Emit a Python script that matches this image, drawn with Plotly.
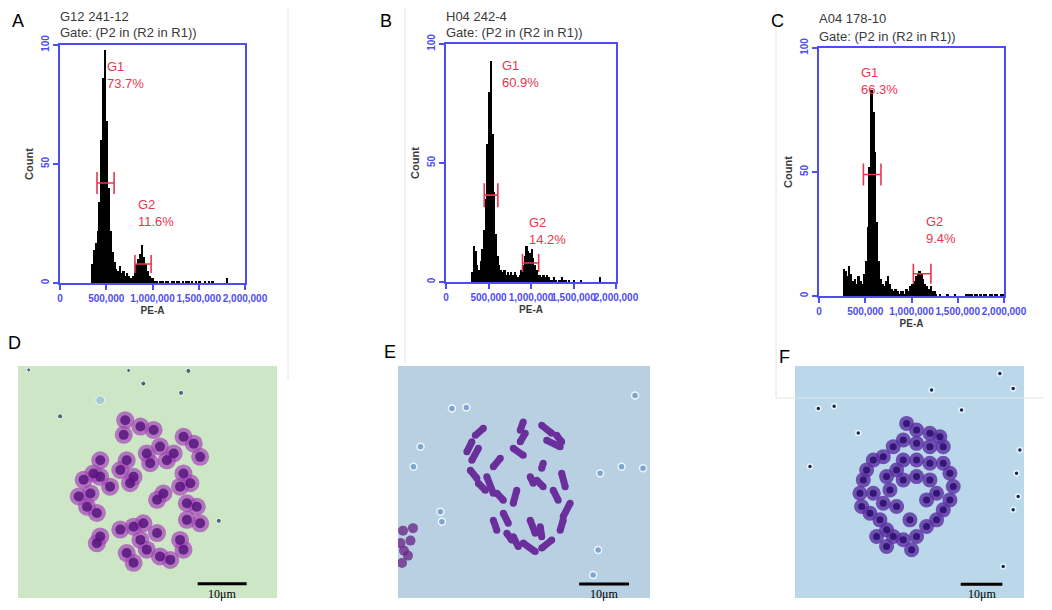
import plotly.graph_objects as go

# ---- flow cytometry histograms (PE-A, bins of 20,000) ----
bin_w = 20000

a_start = 340000
a_counts = [8, 14, 17, 22, 34, 60, 86, 98, 68, 40, 22, 13, 9, 6, 5, 7, 4, 5, 3, 4,
            3, 2, 3, 5, 8, 10, 12, 16, 11, 8, 5, 3, 2, 2, 1, 1, 0, 1, 1, 0,
            1, 1, 0, 1, 1, 0, 1, 1, 0, 1, 0, 1, 1, 0, 1, 0, 1, 0, 1, 0,
            0, 1, 0, 1, 0, 1, 0, 0, 0, 0, 0, 0, 0, 2]

b_start = 300000
b_counts = [4, 15, 13, 7, 5, 9, 14, 22, 35, 58, 80, 93, 62, 38, 20, 11, 7, 5, 4, 5,
            3, 4, 3, 4, 3, 4, 3, 2, 3, 5, 7, 11, 15, 13, 12, 14, 10, 7, 5, 3,
            3, 2, 3, 2, 3, 2, 1, 1, 2, 1, 0, 1, 1, 2, 1, 1, 0, 1, 0, 0,
            1, 0, 0, 0, 1, 0, 0, 0, 0, 0, 0, 0, 0, 0, 0, 2]

c_start = 260000
c_counts = [11, 10, 8, 12, 9, 6, 7, 5, 8, 6, 5, 9, 14, 28, 52, 83, 74, 58, 30, 14,
            7, 5, 4, 6, 8, 5, 3, 2, 3, 2, 1, 2, 2, 1, 3, 2, 4, 5, 6, 8,
            9, 10, 9, 7, 5, 4, 3, 4, 2, 2, 1, 0, 1, 0, 0, 0, 1, 0, 0, 0,
            1, 0, 0, 0, 0, 0, 1, 1, 1, 1, 0, 1, 1, 0, 1, 0, 1, 1, 0, 1,
            1, 0, 1, 1, 0, 1, 1]

sample_names = ["G12 241-12", "H04 242-4", "A04 178-10"]
gate_text = "Gate: (P2 in (R2 in R1))"

# gates: [G1, G2] per panel
a_gate_lo = [400000, 810000]
a_gate_hi = [585000, 985000]
a_gate_y = [42, 8]
a_pct = ["73.7%", "11.6%"]

b_gate_lo = [450000, 900000]
b_gate_hi = [610000, 1090000]
b_gate_y = [36.5, 8]
b_pct = ["60.9%", "14.2%"]

c_gate_lo = [480000, 1020000]
c_gate_hi = [670000, 1210000]
c_gate_y = [49, 9]
c_pct = ["66.3%", "9.4%"]

# ---- micrographs: chromosome positions in micrometres ----
d_chrom_x = [21.9, 21.6, 25.0, 27.7, 29.0, 33.8, 35.9, 37.2, 31.8, 30.4, 22.2, 20.9, 16.8, 15.4,
             13.4, 12.4, 14.8, 16.8, 18.8, 22.9, 23.6, 26.3, 27.0, 29.7, 28.4, 33.1, 34.5, 36.5,
             37.2, 34.5, 33.1, 33.8, 31.1, 29.0, 26.3, 23.6, 22.2, 20.9, 23.6, 25.6, 28.4, 25.0,
             16.1, 14.1, 16.8, 16.1, 33.8, 35.2]
d_chrom_y = [11.1, 14.1, 12.4, 13.1, 16.5, 14.5, 15.9, 18.6, 17.9, 19.3, 19.3, 21.3, 19.3, 22.0,
             23.3, 26.7, 26.1, 22.7, 24.7, 24.0, 22.7, 17.9, 19.9, 26.1, 27.4, 24.7, 28.1, 28.8,
             32.2, 31.5, 35.6, 37.6, 39.7, 39.0, 37.6, 40.3, 38.3, 33.5, 32.9, 32.2, 34.2, 35.6,
             30.1, 28.8, 34.9, 36.3, 22.0, 24.0]
d_dot_x = [34.8, 25.6, 33.3, 8.6, 41.0, 22.6, 2.2, 16.8]
d_dot_y = [1.0, 3.6, 5.5, 10.3, 31.7, 0.9, 0.8, 7.0]

e_rod_x0 = [17.1, 14.8, 16.1, 20.5, 23.1, 25.1, 25.5, 28.8, 29.8, 31.8, 14.5, 16.1, 17.8, 19.8, 23.8,
            26.5, 27.8, 29.1, 32.8, 31.1, 34.5, 33.1, 21.1, 19.1, 26.5, 28.5, 23.1, 25.1, 28.8, 21.8]
e_rod_y0 = [12.5, 15.2, 16.5, 18.5, 16.5, 11.2, 13.5, 11.9, 14.9, 13.9, 20.9, 23.5, 22.2, 25.5, 24.9,
            22.2, 22.9, 19.5, 21.5, 24.9, 27.5, 30.9, 29.5, 30.9, 30.9, 32.2, 34.2, 35.5, 36.5, 33.5]
e_rod_x1 = [15.5, 13.8, 14.8, 19.1, 25.1, 24.5, 24.5, 30.8, 32.5, 32.8, 15.8, 17.5, 19.1, 21.1, 23.1,
            27.1, 29.1, 28.8, 33.5, 32.1, 33.1, 32.5, 22.1, 19.8, 27.5, 28.8, 24.1, 27.5, 30.8, 22.8]
e_rod_y1 = [13.9, 17.2, 18.9, 20.2, 17.9, 12.9, 15.2, 13.5, 16.2, 15.2, 22.5, 24.9, 25.5, 26.9, 27.5,
            23.5, 24.2, 20.5, 24.2, 26.9, 30.2, 32.9, 31.5, 32.9, 33.5, 34.2, 36.2, 37.2, 34.9, 34.9]
e_cell_x = [1.0, 2.5, 1.2, 3.0, 0.8, 2.0, 0.5]
e_cell_y = [33.0, 35.0, 37.0, 32.5, 39.5, 38.0, 35.5]
e_dot_x = [13.7, 3.1, 44.8, 49.1, 40.5, 39.1, 47.5, 8.8, 4.5, 10.8, 40.1, 8.5]
e_dot_y = [8.3, 20.2, 20.2, 20.5, 21.5, 41.9, 5.9, 31.2, 16.2, 8.5, 36.9, 29.2]

f_chrom_x = [26.8, 29.2, 32.4, 34.8, 35.6, 32.4, 29.2, 26.0, 23.6, 21.2, 18.8, 17.2, 16.4, 15.6,
             16.0, 18.0, 20.4, 22.0, 23.6, 26.0, 28.0, 29.2, 31.6, 34.0, 35.6, 37.2, 38.0, 37.2,
             35.6, 32.4, 29.2, 26.0, 24.4, 22.0, 22.8, 26.0, 29.2, 32.4, 34.0, 31.6, 24.4, 21.2,
             18.8, 27.6, 19.6, 22.0]
f_chrom_y = [13.8, 15.4, 16.2, 17.0, 19.4, 19.4, 18.6, 17.8, 19.4, 21.8, 22.6, 25.0, 27.4, 30.6,
             33.8, 35.4, 37.0, 39.4, 41.0, 41.8, 44.2, 41.0, 38.6, 37.0, 34.6, 32.2, 29.0, 25.8,
             23.4, 23.4, 22.6, 22.6, 25.0, 26.6, 29.8, 27.4, 26.6, 27.4, 30.6, 32.2, 33.8, 33.0,
             30.6, 37.0, 41.0, 43.4]
f_dot_x = [5.6, 9.4, 15.2, 52.4, 54.0, 53.2, 53.6, 52.4, 50.0, 3.6, 49.2, 40.0, 32.8]
f_dot_y = [10.2, 9.7, 16.1, 5.4, 20.2, 25.8, 31.4, 34.6, 48.2, 24.2, 1.8, 10.6, 5.8]

# image extents (um) and 10 um scale bar (start x, y)
d_size = (52.9, 47.5)
e_size = (50.5, 46.5)
f_size = (55.0, 55.8)
d_bar = (36.7, 44.6)
e_bar = (36.3, 43.7)
f_bar = (39.8, 52.5)
bar_len = 10

BLUE = "#4d4df2"
RED = "#e8364e"
GREY = "#3a3a3a"
SANS = "Liberation Sans, Arial, sans-serif"

# the page has an 8px body margin, so the figure is 16px smaller than the window
W, H, PAD = 1036, 594, 8


def fx(px):
    return (px - PAD) / W


def fy(py):
    return 1 - (py - PAD) / H


fig = go.Figure()

hist = [(a_start, a_counts, a_gate_lo, a_gate_hi, a_gate_y, a_pct, [11, 9]),
        (b_start, b_counts, b_gate_lo, b_gate_hi, b_gate_y, b_pct, [12, 9]),
        (c_start, c_counts, c_gate_lo, c_gate_hi, c_gate_y, c_pct, [11, 10])]

for i, (start, counts, lo, hi, gy, pct, caps) in enumerate(hist):
    xa = "x" if i == 0 else "x%d" % (i + 1)
    ya = "y" if i == 0 else "y%d" % (i + 1)
    centers = [start + bin_w * (k + 0.5) for k in range(len(counts))]
    fig.add_trace(go.Bar(x=centers, y=counts, width=bin_w, marker=dict(color="black", line=dict(width=0)),
                         xaxis=xa, yaxis=ya, showlegend=False))
    for g in range(2):
        mid = (lo[g] + hi[g]) / 2
        fig.add_trace(go.Scatter(
            x=[mid], y=[gy[g]], mode="markers", marker=dict(size=1, color=RED),
            error_x=dict(type="data", symmetric=False, array=[hi[g] - mid], arrayminus=[mid - lo[g]],
                         color=RED, thickness=1.6, width=caps[g]),
            xaxis=xa, yaxis=ya, showlegend=False, hoverinfo="skip"))

# gate labels (data coords)
label_pos = [[(490000, 95), (820000, 37)],
             [(640000, 95), (950000, 29)],
             [(430000, 94), (1130000, 34)]]
for i, (start, counts, lo, hi, gy, pct, caps) in enumerate(hist):
    xa = "x" if i == 0 else "x%d" % (i + 1)
    ya = "y" if i == 0 else "y%d" % (i + 1)
    for g, name in enumerate(["G1", "G2"]):
        fig.add_annotation(x=label_pos[i][g][0], y=label_pos[i][g][1], xref=xa, yref=ya,
                           text=name + "<br>" + pct[g], showarrow=False, align="left",
                           xanchor="left", yanchor="top",
                           font=dict(family=SANS, size=13, color=RED))

# micrographs
img_bg = ["#cde6c6", "#b8d0e2", "#bad8ea"]
for j in range(3):
    n = j + 4
    fig.add_shape(type="rect", xref="x%d domain" % n, yref="y%d domain" % n,
                  x0=0, x1=1, y0=0, y1=1, fillcolor=img_bg[j], line=dict(width=0), layer="below")

# D
fig.add_trace(go.Scatter(x=d_dot_x, y=d_dot_y, mode="markers", xaxis="x4", yaxis="y4",
                         marker=dict(size=[5, 5, 5, 5, 5, 4, 4, 9],
                                     color=["#1b2a5a"] * 7 + ["#8fc3d8"]),
                         showlegend=False, hoverinfo="skip"))
fig.add_trace(go.Scatter(x=d_chrom_x, y=d_chrom_y, mode="markers", xaxis="x4", yaxis="y4",
                         marker=dict(size=18, color="#a445b8", opacity=0.7, line=dict(width=0)),
                         showlegend=False, hoverinfo="skip"))
fig.add_trace(go.Scatter(x=d_chrom_x, y=d_chrom_y, mode="markers", xaxis="x4", yaxis="y4",
                         marker=dict(size=10, color="#52107a", opacity=0.8, line=dict(width=0)),
                         showlegend=False, hoverinfo="skip"))

# E
fig.add_trace(go.Scatter(x=e_dot_x, y=e_dot_y, mode="markers", xaxis="x5", yaxis="y5",
                         marker=dict(size=7, color="#7aa6cf", line=dict(width=1.5, color="#eef6fb")),
                         showlegend=False, hoverinfo="skip"))
rod_x, rod_y = [], []
for k in range(len(e_rod_x0)):
    rod_x += [e_rod_x0[k], e_rod_x1[k], None]
    rod_y += [e_rod_y0[k], e_rod_y1[k], None]
fig.add_trace(go.Scatter(x=rod_x, y=rod_y, mode="lines+markers", xaxis="x5", yaxis="y5",
                         line=dict(width=7, color="#6b2f9c"),
                         marker=dict(size=7, color="#6b2f9c"),
                         showlegend=False, hoverinfo="skip"))
fig.add_trace(go.Scatter(x=e_cell_x, y=e_cell_y, mode="markers", xaxis="x5", yaxis="y5",
                         marker=dict(size=10, color="#6a2a8a", opacity=0.8),
                         showlegend=False, hoverinfo="skip"))

# F
fig.add_trace(go.Scatter(x=f_dot_x, y=f_dot_y, mode="markers", xaxis="x6", yaxis="y6",
                         marker=dict(size=5, color="#1d2450", line=dict(width=1.5, color="#e6f3fa")),
                         showlegend=False, hoverinfo="skip"))
fig.add_trace(go.Scatter(x=f_chrom_x, y=f_chrom_y, mode="markers", xaxis="x6", yaxis="y6",
                         marker=dict(size=15, color="#5b2ea2", opacity=0.8, line=dict(width=0)),
                         showlegend=False, hoverinfo="skip"))
fig.add_trace(go.Scatter(x=f_chrom_x, y=f_chrom_y, mode="markers", xaxis="x6", yaxis="y6",
                         marker=dict(size=7, color="#2e1070", opacity=0.9),
                         showlegend=False, hoverinfo="skip"))

# scale bars
for n, bar in zip([4, 5, 6], [d_bar, e_bar, f_bar]):
    fig.add_trace(go.Scatter(x=[bar[0], bar[0] + bar_len], y=[bar[1], bar[1]], mode="lines",
                             xaxis="x%d" % n, yaxis="y%d" % n, line=dict(color="black", width=3),
                             showlegend=False, hoverinfo="skip"))
    fig.add_annotation(x=bar[0] + bar_len / 2, y=bar[1], xref="x%d" % n, yref="y%d" % n,
                       text="10μm", showarrow=False, yanchor="top", yshift=-1,
                       font=dict(family="Liberation Serif, Times New Roman, serif", size=12, color="black"))

# axes (pixel boxes measured on the reference)
hist_box = [(60, 245, 283, 45), (446, 616, 282, 44), (819, 1004, 296, 48)]
img_box = [(18, 277, 598, 366, d_size), (398, 650, 598, 366, e_size), (795, 1024, 598, 366, f_size)]

axis_common = dict(showline=True, linecolor=BLUE, linewidth=1.5, mirror=True, ticks="outside",
                   ticklen=5, tickcolor=BLUE, tickwidth=1.5, showgrid=False, zeroline=False,
                   automargin=False,
                   tickfont=dict(family=SANS, size=10, color=BLUE, weight="bold"))
layout = {}
for i, (x0, x1, y0, y1) in enumerate(hist_box):
    sx = "" if i == 0 else str(i + 1)
    layout["xaxis" + sx] = dict(domain=[fx(x0), fx(x1)], range=[0, 2000000], anchor="y" + sx,
                                tickvals=[0, 500000, 1000000, 1500000, 2000000], tickformat=",",
                                tickangle=0,
                                title=dict(text="PE-A", standoff=4,
                                           font=dict(family=SANS, size=10, color=GREY, weight="bold")),
                                **axis_common)
    layout["yaxis" + sx] = dict(domain=[fy(y0), fy(y1)], range=[0, 100], anchor="x" + sx,
                                tickvals=[0, 50, 100], tickangle=-90,
                                title=dict(text="Count", standoff=4,
                                           font=dict(family=SANS, size=11, color=GREY, weight="bold")),
                                **axis_common)
for j, (x0, x1, y0, y1, size) in enumerate(img_box):
    n = str(j + 4)
    layout["xaxis" + n] = dict(domain=[fx(x0), fx(x1)], range=[0, size[0]], anchor="y" + n, visible=False)
    layout["yaxis" + n] = dict(domain=[fy(y0), fy(y1)], range=[size[1], 0], anchor="x" + n, visible=False)

fig.update_layout(**layout)

# sample titles
title_y = [(17, 33), (17, 33), (19, 36)]
for i, name in enumerate(sample_names):
    xa = "x" if i == 0 else "x%d" % (i + 1)
    for txt, py in zip([name, gate_text], title_y[i]):
        fig.add_annotation(x=0, y=fy(py), xref=xa + " domain", yref="paper", text=txt,
                           showarrow=False, xanchor="left", yanchor="middle", xshift=-2,
                           font=dict(family=SANS, size=13, color=GREY))

# panel letters
letters = [("A", 18, 21), ("B", 386, 21), ("C", 777, 21), ("D", 14, 343), ("E", 390, 352), ("F", 784, 357)]
for txt, px, py in letters:
    fig.add_annotation(x=fx(px), y=fy(py), xref="paper", yref="paper", text=txt,
                       showarrow=False, xanchor="center", yanchor="middle",
                       font=dict(family=SANS, size=18, color="black"))

# faint panel frames of the original figure
frame = dict(color="#e4e4e4", width=1)
fig.add_shape(type="line", xref="paper", yref="paper", x0=fx(405), x1=fx(405), y0=fy(363), y1=fy(8), line=frame)
fig.add_shape(type="line", xref="paper", yref="paper", x0=fx(288), x1=fx(288), y0=fy(380), y1=fy(8), line=frame)
fig.add_shape(type="line", xref="paper", yref="paper", x0=fx(776), x1=fx(776), y0=fy(398), y1=fy(8), line=frame)
fig.add_shape(type="line", xref="paper", yref="paper", x0=fx(776), x1=fx(1044), y0=fy(398), y1=fy(398), line=frame)

fig.update_layout(width=W, height=H, margin=dict(l=0, r=0, t=0, b=0), template="none",
                  paper_bgcolor="white", plot_bgcolor="white", bargap=0)

fig.write_html("out.html")
